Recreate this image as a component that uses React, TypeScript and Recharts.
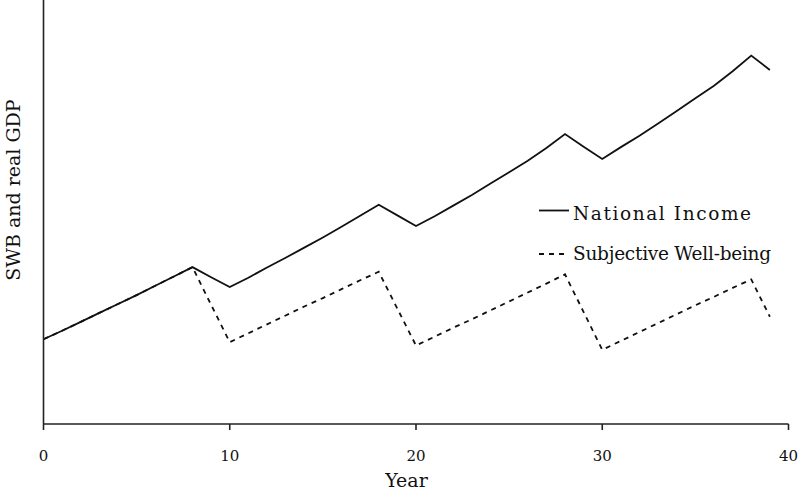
import React from 'react';
import { LineChart, Line, XAxis, YAxis, Legend } from 'recharts';

const years = [0,1,2,3,4,5,6,7,8,9,10,11,12,13,14,15,16,17,18,19,20,21,22,23,24,25,26,27,28,29,30,31,32,33,34,35,36,37,38,39];
const nationalIncome = [20.0,22.0,24.1,26.2,28.3,30.4,32.6,34.8,37.0,34.6,32.3,34.5,36.9,39.2,41.6,44.0,46.5,49.1,51.7,49.2,46.7,49.0,51.5,54.0,56.7,59.4,62.1,65.1,68.4,65.4,62.5,65.3,68.0,70.9,73.8,76.8,79.8,83.2,86.9,83.5];
const subjectiveWellBeing = [20.0,22.0,24.1,26.2,28.3,30.4,32.6,34.8,37.0,28.1,19.3,21.4,23.5,25.6,27.7,29.7,31.8,33.9,35.9,27.2,18.5,20.6,22.7,24.7,26.8,28.9,31.0,33.1,35.3,26.4,17.5,19.6,21.7,23.8,25.9,28.0,30.0,32.1,34.1,25.3];
const xTicks = [0, 10, 20, 30, 40];

const data = years.map((y, i) => ({ year: y, income: nationalIncome[i], swb: subjectiveWellBeing[i] }));

const FONT = '"DejaVu Serif", serif';

const renderLegend = () => (
  <svg width={265} height={80} style={{ overflow: 'visible' }}>
    <line x1={4} y1={15.5} x2={34} y2={15.5} stroke="#111" strokeWidth={1.8} />
    <text x={38} y={25} fontFamily={FONT} fontSize={18.5} letterSpacing={1.6} fill="#111">National Income</text>
    <line x1={4} y1={59} x2={31} y2={59} stroke="#111" strokeWidth={1.8} strokeDasharray="5 5" />
    <text x={38} y={65} fontFamily={FONT} fontSize={18.5} letterSpacing={-0.25} fill="#111">Subjective Well-being</text>
  </svg>
);

export default function App() {
  return (
    <div style={{ position: 'absolute', left: 0, top: 0, width: 800, height: 489, background: '#fff' }}>
      <LineChart width={800} height={489} data={data} margin={{ top: 0, right: 11.5, bottom: 0, left: 0 }}>
        <XAxis
          dataKey="year"
          type="number"
          domain={[0, 40]}
          ticks={xTicks}
          height={65}
          axisLine={{ stroke: '#222', strokeWidth: 1.6 }}
          tickLine={{ stroke: '#222', strokeWidth: 1.6 }}
          tickSize={6}
          tickMargin={20}
          tick={{ fontFamily: FONT, fontSize: 15, fill: '#111' }}
          label={() => (
            <text x={406.5} y={486.5} textAnchor="middle" fontFamily={FONT} fontSize={19} fill="#111">Year</text>
          )}
        />
        <YAxis
          type="number"
          domain={[0, 100]}
          width={43.5}
          tick={false}
          tickLine={false}
          axisLine={{ stroke: '#222', strokeWidth: 1.6 }}
          label={() => (
            <text
              x={13}
              y={190}
              textAnchor="middle"
              dominantBaseline="central"
              transform="rotate(-90, 13, 190)"
              fontFamily={FONT}
              fontSize={19}
              fill="#111"
            >
              SWB and real GDP
            </text>
          )}
        />
        <Legend
          layout="vertical"
          align="center"
          verticalAlign="middle"
          content={renderLegend}
          wrapperStyle={{ position: 'absolute', left: 535, top: 195, width: 265, height: 80 }}
        />
        <Line type="linear" dataKey="swb" stroke="#111" strokeWidth={1.8} strokeDasharray="5 5" dot={false} activeDot={false} isAnimationActive={false} />
        <Line type="linear" dataKey="income" stroke="#111" strokeWidth={1.8} dot={false} activeDot={false} isAnimationActive={false} />
      </LineChart>
    </div>
  );
}
